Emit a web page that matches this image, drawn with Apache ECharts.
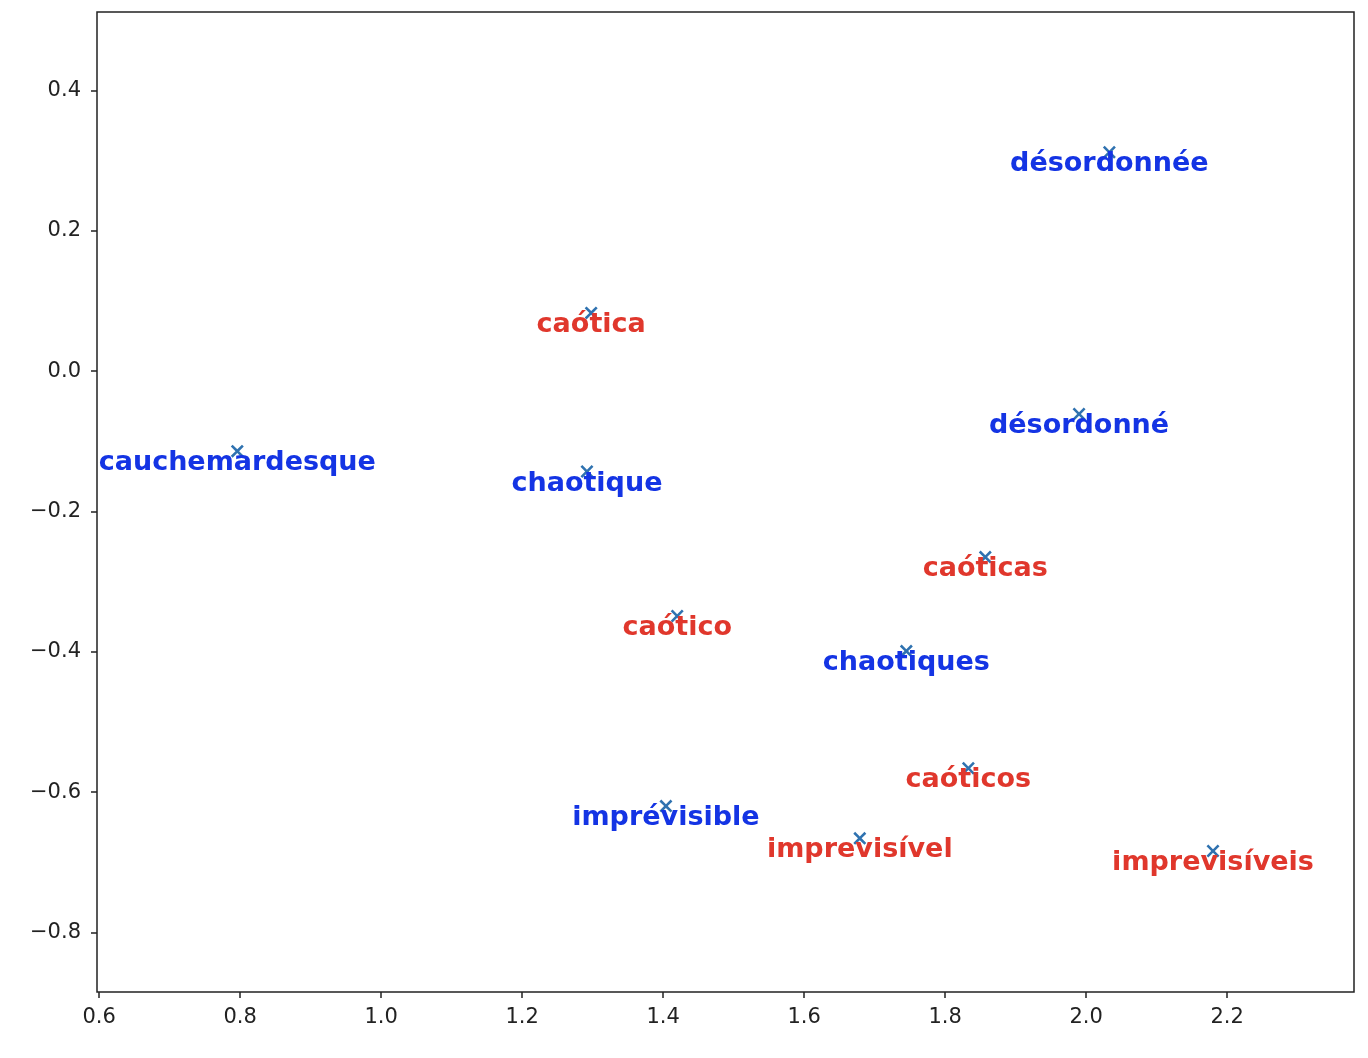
<!DOCTYPE html>
<html>
<head>
<meta charset="utf-8">
<script src="https://cdn.jsdelivr.net/npm/echarts@6/dist/echarts.min.js"></script>
<style>html,body{margin:0;padding:0;background:#fff;}#c{width:1368px;height:1058px;}</style>
</head>
<body>
<div id="c"></div>
<script>
const words = ['désordonnée','caótica','désordonné','cauchemardesque','chaotique','caóticas','caótico','chaotiques','caóticos','imprévisible','imprevisível','imprevisíveis'];
const xs = [2.033, 1.298, 1.990, 0.796, 1.292, 1.857, 1.420, 1.745, 1.833, 1.404, 1.679, 2.180];
const ys = [0.312, 0.083, -0.061, -0.114, -0.143, -0.265, -0.349, -0.399, -0.566, -0.620, -0.666, -0.684];
const langs = ['fr','pt','fr','fr','fr','pt','pt','fr','pt','fr','pt','pt'];
const xTicks = [0.6, 0.8, 1.0, 1.2, 1.4, 1.6, 1.8, 2.0, 2.2];
const yTicks = [-0.8, -0.6, -0.4, -0.2, 0.0, 0.2, 0.4];

const langColor = {fr: '#1434e4', pt: '#e0372c'};
const fmt = v => (Math.round(v*10)/10).toFixed(1).replace('-', '\u2212');
const xPath = 'path://M0,14 L14,0 L50,36 L86,0 L100,14 L64,50 L100,86 L86,100 L50,64 L14,100 L0,86 L36,50 Z';

const labelBase = {
  show: true,
  formatter: p => p.name,
  position: 'inside',
  offset: [0, 12],
  fontFamily: 'DejaVu Sans',
  fontWeight: 'bold',
  fontSize: 27
};

const chart = echarts.init(document.getElementById('c'));
chart.setOption({
  animation: false,
  backgroundColor: '#fff',
  grid: {left: 97, right: 14, top: 12, bottom: 66, show: true, borderColor: '#222', borderWidth: 1.5, backgroundColor: 'transparent'},
  xAxis: {
    type: 'value', min: 0.597, max: 2.380,
    splitLine: {show: false},
    axisLine: {show: false, onZero: false},
    axisTick: {show: true, length: 6, inside: false, customValues: xTicks, lineStyle: {color: '#222', width: 1.5}},
    axisLabel: {customValues: xTicks, formatter: fmt, margin: 15, fontFamily: 'DejaVu Sans', fontSize: 21, color: '#222'}
  },
  yAxis: {
    type: 'value', min: -0.885, max: 0.512,
    splitLine: {show: false},
    axisLine: {show: false, onZero: false},
    axisTick: {show: true, length: 6, inside: false, customValues: yTicks, lineStyle: {color: '#222', width: 1.5}},
    axisLabel: {customValues: yTicks, formatter: fmt, margin: 16, fontFamily: 'DejaVu Sans', fontSize: 21, color: '#222'}
  },
  series: [{
    type: 'scatter',
    z: 2,
    symbol: xPath,
    symbolSize: 13,
    itemStyle: {color: '#2f72b0', opacity: 1},
    data: words.map((w, i) => ({value: [xs[i], ys[i]], name: w}))
  }, {
    type: 'scatter',
    z: 6,
    symbol: 'circle',
    symbolSize: 1,
    itemStyle: {color: 'rgba(0,0,0,0)', opacity: 1},
    data: words.map((w, i) => ({
      value: [xs[i], ys[i]],
      name: w,
      label: Object.assign({}, labelBase, {color: langColor[langs[i]]})
    })),
    label: labelBase
  }]
});
</script>
</body>
</html>
